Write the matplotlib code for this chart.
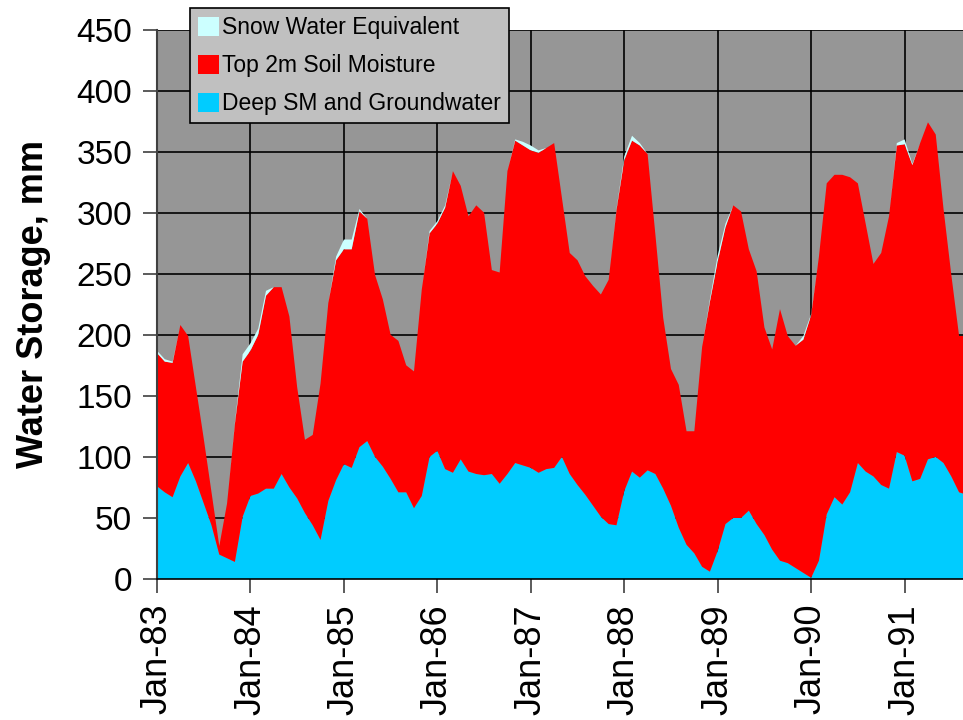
import numpy as np
import matplotlib
matplotlib.use("Agg")
import matplotlib.pyplot as plt
from matplotlib.patches import Patch

plt.rcParams['font.family'] = ['Liberation Sans', 'DejaVu Sans']

# Monthly data, Jan-83 onward (month index 0..104)
deep_sm_groundwater = [
    76, 71, 67, 84, 95, 80, 62, 44, 20, 17, 14, 51,
    68, 70, 74, 74, 86, 75, 66, 54, 44, 32, 64, 81,
    94, 91, 108, 113, 100, 92, 82, 71, 71, 58, 68, 100,
    105, 90, 87, 98, 88, 86, 85, 86, 78, 86, 95, 93,
    91, 87, 90, 91, 100, 86, 77, 69, 60, 51, 45, 44,
    72, 88, 83, 89, 86, 74, 60, 42, 28, 21, 10, 6,
    23, 45, 50, 50, 56, 45, 36, 24, 15, 13, 9, 5,
    1, 15, 53, 67, 61, 71, 95, 88, 84, 77, 74, 104,
    101, 80, 82, 98, 100, 95, 84, 71, 69,
]
top_2m_soil_moisture = [
    109, 107, 110, 124, 104, 77, 53, 27, 7, 45, 113, 127,
    119, 130, 158, 165, 153, 140, 91, 60, 74, 128, 162, 180,
    176, 179, 193, 182, 149, 137, 118, 124, 104, 112, 169, 183,
    186, 214, 247, 224, 209, 220, 215, 167, 173, 248, 264, 262,
    260, 262, 263, 266, 212, 181, 184, 179, 180, 182, 200, 258,
    271, 271, 272, 259, 196, 140, 112, 117, 93, 100, 180, 221,
    237, 243, 256, 251, 214, 207, 170, 164, 206, 186, 182, 191,
    215, 249, 271, 264, 270, 258, 229, 203, 174, 190, 223, 251,
    255, 259, 275, 276, 264, 208, 165, 128, 130,
]
snow_water_equivalent = [
    2, 2, 1, 0, 0, 0, 0, 0, 0, 0, 1, 6,
    6, 5, 4, 0, 0, 0, 0, 0, 0, 0, 0, 3,
    8, 8, 2, 0, 0, 0, 0, 0, 0, 0, 0, 2,
    2, 2, 0, 0, 0, 0, 0, 0, 0, 0, 1, 3,
    4, 2, 0, 0, 0, 0, 0, 0, 0, 0, 0, 1,
    3, 4, 2, 0, 0, 0, 0, 0, 0, 0, 0, 2,
    5, 3, 0, 0, 0, 0, 0, 0, 0, 0, 0, 3,
    1, 0, 0, 0, 0, 0, 0, 0, 0, 0, 0, 2,
    4, 1, 0, 0, 0, 0, 0, 0, 0,
]
tick_labels = ['Jan-83', 'Jan-84', 'Jan-85', 'Jan-86', 'Jan-87',
               'Jan-88', 'Jan-89', 'Jan-90', 'Jan-91']
series_names = ['Snow Water Equivalent', 'Top 2m Soil Moisture',
                'Deep SM and Groundwater']

c_snow = '#ccffff'
c_top = '#ff0000'
c_deep = '#00ccff'
months = np.arange(len(deep_sm_groundwater))

fig = plt.figure(figsize=(9.63, 7.2), dpi=100)
ax = fig.add_axes([157 / 963, 1 - 579 / 720, 1 - 157 / 963, (579 - 29.5) / 720])
ax.set_facecolor('#969696')

ax.stackplot(months, deep_sm_groundwater, top_2m_soil_moisture,
             snow_water_equivalent, colors=[c_deep, c_top, c_snow],
             linewidth=0, zorder=2)

ax.set_xlim(0, 103.5)
ax.set_ylim(0, 450)
ax.set_yticks(np.arange(0, 451, 50))
ax.set_xticks(np.arange(0, 12 * len(tick_labels), 12))
ax.set_xticklabels(tick_labels, rotation=90)
ax.tick_params(axis='both', direction='out', length=10,
               width=1.2, color='#404040')
ax.tick_params(axis='y', labelsize=24, pad=8)
ax.tick_params(axis='x', labelsize=26, pad=8)
ax.grid(True, color='black', linewidth=1.2, zorder=1)
ax.set_axisbelow(True)
for s in ['top', 'right']:
    ax.spines[s].set_visible(False)
ax.spines['left'].set_color('#404040')
ax.spines['left'].set_linewidth(1.5)
ax.spines['bottom'].set_color('black')
ax.spines['bottom'].set_linewidth(1.2)

ax.set_ylabel('Water Storage, mm', fontsize=26, fontweight='bold', labelpad=18)

handles = [Patch(facecolor=c_snow, edgecolor='none'),
           Patch(facecolor=c_top, edgecolor='none'),
           Patch(facecolor=c_deep, edgecolor='none')]
leg = fig.legend(handles, series_names, loc='upper left',
                 bbox_to_anchor=(190 / 963, 1 - 8 / 720), fontsize=16.5,
                 frameon=True, fancybox=False, shadow=False,
                 handlelength=0.9, handleheight=0.9, handletextpad=0.15,
                 labelspacing=0.66, borderpad=0.35, borderaxespad=0)
leg.get_frame().set_facecolor('#c0c0c0')
leg.get_frame().set_edgecolor('black')
leg.get_frame().set_linewidth(1.2)
leg.get_frame().set_alpha(1)

fig.savefig('out.png', dpi=100)
